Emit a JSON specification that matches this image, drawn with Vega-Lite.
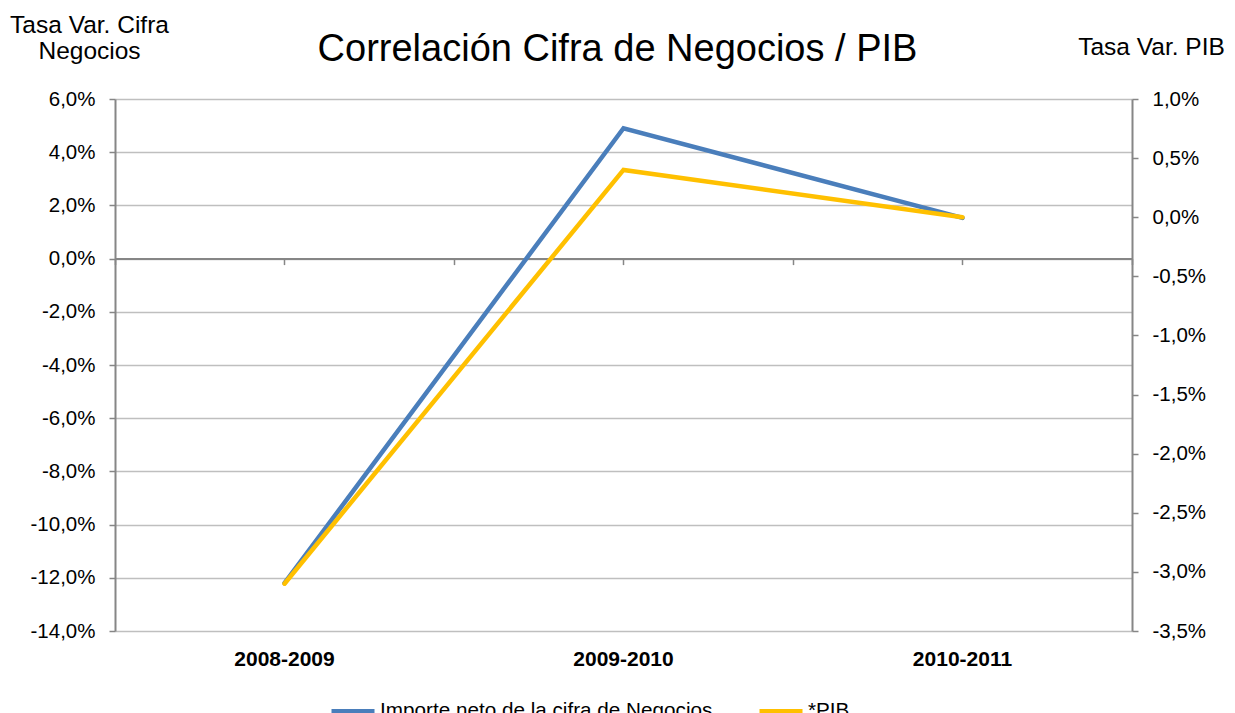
{
  "$schema": "https://vega.github.io/schema/vega-lite/v6.json",
  "autosize": "none",
  "width": 1017,
  "height": 532,
  "padding": {"left": 115, "top": 99, "right": 103, "bottom": 82},
  "background": "white",
  "config": {
    "locale": {"number": {"decimal": ",", "thousands": ".", "grouping": [3], "currency": ["", " €"], "minus": "-"}},
    "font": "Liberation Sans",
    "view": {"stroke": null},
    "axis": {"labelFont": "Liberation Sans", "titleFont": "Liberation Sans", "labelColor": "black", "titleColor": "black", "titleFontWeight": "normal"},
    "legend": {"labelFont": "Liberation Sans", "labelColor": "black"}
  },
  "title": {
    "text": "Correlación Cifra de Negocios / PIB",
    "fontSize": 38,
    "font": "Liberation Sans",
    "fontWeight": "normal",
    "color": "black",
    "anchor": "middle",
    "frame": "group",
    "offset": 0,
    "baseline": "alphabetic",
    "dy": 87,
    "dx": -6
  },
  "data": {
    "values": [
      {"periodo": "2008-2009", "serie": "Importe neto de la cifra de Negocios", "valor": -0.122},
      {"periodo": "2009-2010", "serie": "Importe neto de la cifra de Negocios", "valor": 0.049},
      {"periodo": "2010-2011", "serie": "Importe neto de la cifra de Negocios", "valor": 0.0153},
      {"periodo": "2008-2009", "serie": "*PIB", "valor": -0.031},
      {"periodo": "2009-2010", "serie": "*PIB", "valor": 0.004},
      {"periodo": "2010-2011", "serie": "*PIB", "valor": 0.0}
    ]
  },
  "layer": [
    {
      "transform": [{"filter": "datum.serie === 'Importe neto de la cifra de Negocios'"}],
      "mark": {"type": "line", "strokeWidth": 4.5, "strokeCap": "round", "strokeJoin": "miter"},
      "encoding": {
        "x": {
          "field": "periodo", "type": "ordinal", "sort": null,
          "scale": {"type": "band", "paddingInner": 0, "paddingOuter": 0},
          "axis": {"orient": "bottom", "title": null, "offset": -372.4, "domain": true, "domainColor": "#868686", "domainWidth": 2, "ticks": true, "tickColor": "#868686", "tickWidth": 1.5, "tickSize": 6, "grid": false, "labelAngle": 0, "labelFontSize": 21, "labelFontWeight": "bold", "labelPadding": 383.4, "labelBaseline": "top"}
        },
        "y": {
          "field": "valor", "type": "quantitative",
          "scale": {"domain": [-0.14, 0.06], "nice": false, "zero": false},
          "axis": {
            "orient": "left",
            "values": [-0.14, -0.12, -0.10, -0.08, -0.06, -0.04, -0.02, 0, 0.02, 0.04, 0.06],
            "format": ".1%",
            "grid": true, "gridColor": "#bfbfbf", "gridWidth": 1.5,
            "domainColor": "#868686", "domainWidth": 2,
            "tickColor": "#868686", "tickWidth": 1.5, "tickSize": 6,
            "labelFontSize": 20.5, "labelPadding": 14,
            "title": ["Tasa Var. Cifra", "Negocios"],
            "titleAngle": 0, "titleX": -26, "titleY": -67, "titleAlign": "center", "titleBaseline": "alphabetic",
            "titleFontSize": 24.5, "titleLineHeight": 26
          }
        },
        "color": {
          "field": "serie", "type": "nominal",
          "scale": {"domain": ["Importe neto de la cifra de Negocios", "*PIB"], "range": ["#4a7ebb", "#ffc000"]},
          "legend": {
            "title": null, "orient": "none", "legendX": 214, "legendY": 588,
            "direction": "horizontal", "columns": 2, "columnPadding": 37,
            "symbolType": "stroke", "symbolSize": 1849, "symbolStrokeWidth": 4.5,
            "labelFontSize": 20.7, "labelOffset": 3, "labelLimit": 600, "padding": 0
          }
        }
      }
    },
    {
      "transform": [{"filter": "datum.serie === '*PIB'"}],
      "mark": {"type": "line", "strokeWidth": 4.5, "strokeCap": "round", "strokeJoin": "miter"},
      "encoding": {
        "x": {
          "field": "periodo", "type": "ordinal", "sort": null,
          "scale": {"type": "band", "paddingInner": 0, "paddingOuter": 0},
          "axis": {"orient": "bottom", "title": null, "labels": false, "grid": false, "offset": -372.4, "domain": false, "ticks": true, "tickBand": "extent", "tickColor": "#868686", "tickWidth": 1.5, "tickSize": 6}
        },
        "y": {
          "field": "valor", "type": "quantitative",
          "scale": {"domain": [-0.035, 0.01], "nice": false, "zero": false},
          "axis": {
            "orient": "right",
            "values": [-0.035, -0.03, -0.025, -0.02, -0.015, -0.01, -0.005, 0, 0.005, 0.01],
            "format": ".1%",
            "grid": false,
            "domainColor": "#868686", "domainWidth": 2,
            "tickColor": "#868686", "tickWidth": 1.5, "tickSize": 6,
            "labelFontSize": 20.5, "labelPadding": 14,
            "title": "Tasa Var. PIB",
            "titleAngle": 0, "titleX": 19, "titleY": -45, "titleAlign": "center", "titleBaseline": "alphabetic",
            "titleFontSize": 24.5
          }
        },
        "color": {"field": "serie", "type": "nominal"}
      }
    }
  ],
  "resolve": {"scale": {"y": "independent"}, "axis": {"x": "independent", "y": "independent"}}
}
